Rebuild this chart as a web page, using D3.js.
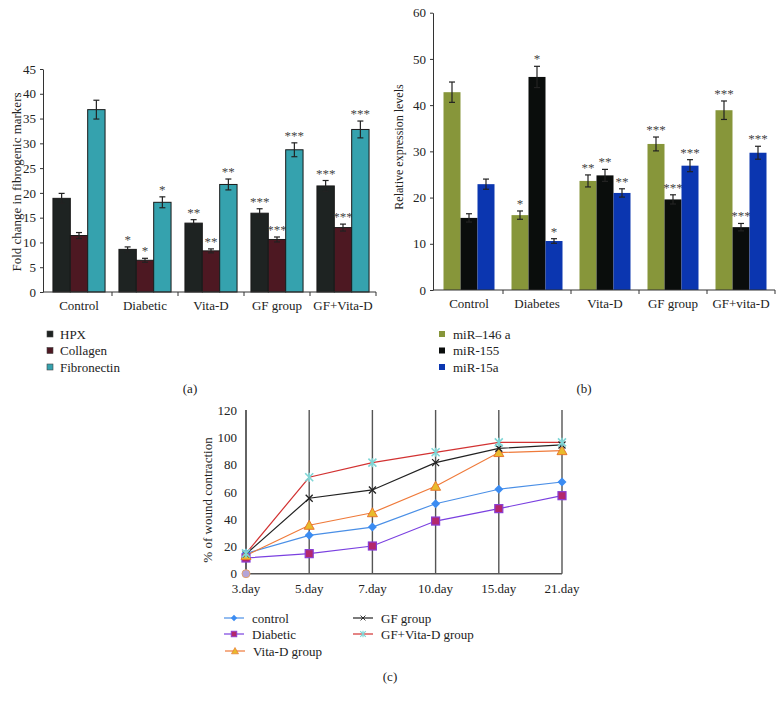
<!DOCTYPE html>
<html><head><meta charset="utf-8">
<script src="https://cdn.jsdelivr.net/npm/d3@7"></script>
<style>
body{margin:0;background:#fff;}
svg text{font-family:"Liberation Serif","Times New Roman",serif;fill:#222;}
</style></head>
<body><svg id="c" width="783" height="703"></svg>
<script>
// ---------- Panel (a) data ----------
const catsA = ["Control","Diabetic","Vita-D","GF group","GF+Vita-D"];
const seriesA = ["HPX","Collagen","Fibronectin"];
const hpx = [18.9, 8.6, 13.9, 15.9, 21.4];
const hpxErr = [1.0, 0.5, 0.7, 0.9, 1.1];
const collagen = [11.4, 6.4, 8.3, 10.6, 13.0];
const collagenErr = [0.6, 0.4, 0.4, 0.5, 0.7];
const fibronectin = [36.8, 18.1, 21.7, 28.7, 32.8];
const fibronectinErr = [1.9, 1.1, 1.1, 1.4, 1.7];
const sigA = ["", "*", "**", "***", "***"];
const ticksA = [0,5,10,15,20,25,30,35,40,45];

// ---------- Panel (b) data ----------
const catsB = ["Control","Diabetes","Vita-D","GF group","GF+vita-D"];
const seriesB = ["miR\u2013146 a","miR-155","miR-15a"];
const mir146 = [42.8, 16.2, 23.6, 31.6, 38.9];
const mir146Err = [2.2, 0.9, 1.3, 1.5, 2.0];
const mir155 = [15.6, 46.1, 24.8, 19.6, 13.6];
const mir155Err = [0.9, 2.3, 1.3, 1.0, 0.8];
const mir15a = [22.9, 10.6, 21.0, 26.9, 29.7];
const mir15aErr = [1.1, 0.5, 0.9, 1.3, 1.4];
const sigB = ["", "*", "**", "***", "***"];
const ticksB = [0,10,20,30,40,50,60];

// ---------- Panel (c) data ----------
const days = ["3.day","5.day","7.day","10.day","15.day","21.day"];
const seriesC = ["control","Diabetic","Vita-D group","GF group","GF+Vita-D group"];
const wControl = [14.9, 28.1, 34.2, 51.3, 61.9, 67.2];
const wDiabetic = [11.5, 14.7, 20.3, 38.6, 47.7, 57.2];
const wVitaD = [13.4, 35.5, 44.7, 64.1, 88.8, 90.2];
const wGF = [14.4, 55.3, 61.4, 81.4, 91.9, 94.4];
const wGFVD = [14.9, 70.7, 81.4, 89.0, 96.3, 96.3];
const extraPoint = [0]; // stray marker at 3.day
const ticksC = [0,20,40,60,80,100,120];

const FONT = "Liberation Serif, Times New Roman, serif";
const svg = d3.select("#c");

function barPanel(opt){
  const g = svg.append("g");
  const y = d3.scaleLinear().domain(opt.domain).range(opt.yRange);
  const x0 = d3.scaleBand().domain(opt.cats).range(opt.xRange).paddingInner(0).paddingOuter(0);
  const x1 = d3.scaleBand().domain(opt.series).range([0, x0.bandwidth()]).paddingInner(0).paddingOuter(opt.pad);
  opt.series.forEach((s,si)=>{
    const vals = opt.values[si], errs = opt.errs[si];
    opt.cats.forEach((c,ci)=>{
      const bx = x0(c)+x1(s);
      g.append("rect").attr("x",bx).attr("y",y(vals[ci])).attr("width",x1.bandwidth())
        .attr("height",y(0)-y(vals[ci])).attr("fill",opt.colors[si])
        .attr("stroke",opt.stroke||"none").attr("stroke-width",opt.stroke?1:0);
      const cx = bx + x1.bandwidth()/2;
      const top = y(vals[ci]+errs[ci]), bot = y(vals[ci]-errs[ci]);
      g.append("line").attr("x1",cx).attr("x2",cx).attr("y1",top).attr("y2",bot).attr("stroke","#222").attr("stroke-width",1.2);
      [top,bot].forEach(yy=>g.append("line").attr("x1",cx-3).attr("x2",cx+3).attr("y1",yy).attr("y2",yy).attr("stroke","#222").attr("stroke-width",1.2));
      if(opt.sig[ci]) g.append("text").attr("x",cx).attr("y",top-3).attr("text-anchor","middle")
        .attr("font-size",13).attr("fill","#444").style("fill","#444").text(opt.sig[ci]);
    });
  });
  const ya = d3.axisLeft(y).tickValues(opt.ticks).tickSize(3).tickSizeOuter(0);
  const yg = g.append("g").attr("transform",`translate(${opt.axisX},0)`).call(ya);
  yg.selectAll("text").attr("font-size",13).attr("dx",-1);
  yg.selectAll("line,path").attr("stroke","#333");
  g.append("line").attr("x1",opt.axisX).attr("x2",opt.xRange[1]).attr("y1",y(0)).attr("y2",y(0)).attr("stroke","#333");
  opt.cats.forEach((c,ci)=>{
    if(ci>0) g.append("line").attr("x1",x0(c)).attr("x2",x0(c)).attr("y1",y(0)).attr("y2",y(0)+4).attr("stroke","#333");
    g.append("text").attr("x",x0(c)+x0.bandwidth()/2).attr("y",y(0)+18).attr("text-anchor","middle").attr("font-size",13).text(c);
  });
  g.append("line").attr("x1",opt.xRange[1]).attr("x2",opt.xRange[1]).attr("y1",y(0)).attr("y2",y(0)+4).attr("stroke","#333");
  g.append("text").attr("transform",`translate(${opt.titleX},${opt.titleY}) rotate(-90)`)
    .attr("text-anchor","middle").attr("font-size",opt.titleSize).text(opt.title);
  opt.series.forEach((s,si)=>{
    const ly = opt.legY + si*16.5;
    g.append("rect").attr("x",opt.legX).attr("y",ly-3).attr("width",6).attr("height",6).attr("fill",opt.colors[si]).attr("stroke",opt.stroke?"#444":"none").attr("stroke-width",0.6);
    g.append("text").attr("x",opt.legTextX).attr("y",ly+4.5).attr("font-size",13).text(s);
  });
  g.append("text").attr("x",opt.capX).attr("y",opt.capY).attr("text-anchor","middle").attr("font-size",13).text(opt.cap);
}

barPanel({cats:catsA, series:seriesA, values:[hpx,collagen,fibronectin], errs:[hpxErr,collagenErr,fibronectinErr],
  colors:["#1e2322","#4d1822","#35a2ae"], stroke:"#1a1a1a", sig:sigA, ticks:ticksA,
  domain:[0,45], yRange:[292,69], xRange:[46,376], pad:0.4, axisX:43,
  title:"Fold change in fibrogenic markers", titleX:21, titleY:182, titleSize:13,
  legX:47, legTextX:60, legY:334, capX:190, capY:393, cap:"(a)"});

barPanel({cats:catsB, series:seriesB, values:[mir146,mir155,mir15a], errs:[mir146Err,mir155Err,mir15aErr],
  colors:["#87963a","#0a0d0c","#0b36b0"], stroke:null, sig:sigB, ticks:ticksB,
  domain:[0,60], yRange:[290,12.7], xRange:[435,775], pad:0.5, axisX:433,
  title:"Relative expression levels", titleX:403, titleY:147, titleSize:12,
  legX:439, legTextX:453, legY:334, capX:584, capY:393, cap:"(b)"});

// ---------- Panel (c) ----------
(function(){
  const g = svg.append("g");
  const x = d3.scalePoint().domain(days).range([246,562]);
  const y = d3.scaleLinear().domain([0,120]).range([573.7,410]);
  days.forEach(d=>g.append("line").attr("x1",x(d)).attr("x2",x(d)).attr("y1",y(120)).attr("y2",y(0)).attr("stroke",d===days[0]?"#222":"#555").attr("stroke-width",1.4));
  g.append("line").attr("x1",x(days[0])).attr("x2",x(days[5])).attr("y1",y(0)).attr("y2",y(0)).attr("stroke","#555").attr("stroke-width",1.4);
  const ya = d3.axisLeft(y).tickValues(ticksC).tickSize(0);
  const yg = g.append("g").attr("transform",`translate(${x(days[0])},0)`).call(ya);
  yg.select("path").remove();
  yg.selectAll("text").attr("font-size",13).attr("dx",-6);
  days.forEach(d=>g.append("text").attr("x",x(d)).attr("y",y(0)+19).attr("text-anchor","middle").attr("font-size",13).text(d));
  g.append("text").attr("transform",`translate(212,500) rotate(-90)`).attr("text-anchor","middle").attr("font-size",13).text("% of wound contraction");

  const styles = [
    {vals:wControl, line:"#4a8fe6", mk:"diamond", fill:"#3b8cf2", st:"#3b8cf2"},
    {vals:wDiabetic, line:"#7a40e0", mk:"square", fill:"#b3286c", st:"#8a3cd4"},
    {vals:wVitaD, line:"#ef7a3a", mk:"triangle", fill:"#e8bb2c", st:"#e8762e"},
    {vals:wGF, line:"#222", mk:"x", fill:"none", st:"#222"},
    {vals:wGFVD, line:"#d23232", mk:"star", fill:"none", st:"#7fd6d6"}
  ];
  const line = d3.line().x((v,i)=>x(days[i])).y(v=>y(v));
  function marker(gg, type, cx, cy, s, k){
    k = k||1;
    const gm = gg.append("g").attr("transform",`translate(${cx},${cy}) scale(${k})`);
    if(type==="diamond") gm.append("path").attr("d","M0,-4.5L4.5,0L0,4.5L-4.5,0Z").attr("fill",s.fill);
    else if(type==="square") gm.append("rect").attr("x",-4).attr("y",-4).attr("width",8).attr("height",8).attr("fill",s.fill).attr("stroke",s.st).attr("stroke-width",1.2);
    else if(type==="triangle") gm.append("path").attr("d","M0,-5L5,4L-5,4Z").attr("fill",s.fill).attr("stroke",s.st).attr("stroke-width",1);
    else if(type==="x") gm.append("path").attr("d","M-3.5,-3.5L3.5,3.5M-3.5,3.5L3.5,-3.5").attr("stroke",s.st).attr("stroke-width",1.3);
    else if(type==="star") gm.append("path").attr("d","M-4,-4L4,4M-4,4L4,-4M0,-4.5L0,4.5").attr("stroke",s.st).attr("stroke-width",1.6);
  }
  styles.forEach(s=>{
    g.append("path").attr("d",line(s.vals)).attr("fill","none").attr("stroke",s.line).attr("stroke-width",1.2);
  });
  styles.forEach(s=>{
    s.vals.forEach((v,i)=>marker(g,s.mk,x(days[i]),y(v),s));
  });
  extraPoint.forEach(v=>g.append("circle").attr("cx",x(days[0])).attr("cy",y(v)).attr("r",4).attr("fill","#b4a4d8").attr("stroke","#e0a070").attr("stroke-width",1));

  const legPos = [[224,618],[224,634],[225,651],[353,618],[353,634]];
  styles.forEach((s,i)=>{
    const [lx,ly] = legPos[i];
    g.append("line").attr("x1",lx).attr("x2",lx+20).attr("y1",ly).attr("y2",ly).attr("stroke",s.line).attr("stroke-width",1.2);
    marker(g,s.mk,lx+10,ly,s,0.7);
    g.append("text").attr("x",lx+28).attr("y",ly+4.5).attr("font-size",13).text(seriesC[i]);
  });
  g.append("text").attr("x",390).attr("y",681).attr("text-anchor","middle").attr("font-size",13).text("(c)");
})();
svg.selectAll("text").attr("font-family",FONT).style("font-family",FONT);
svg.selectAll("g").attr("font-family",FONT);
</script></body></html>
